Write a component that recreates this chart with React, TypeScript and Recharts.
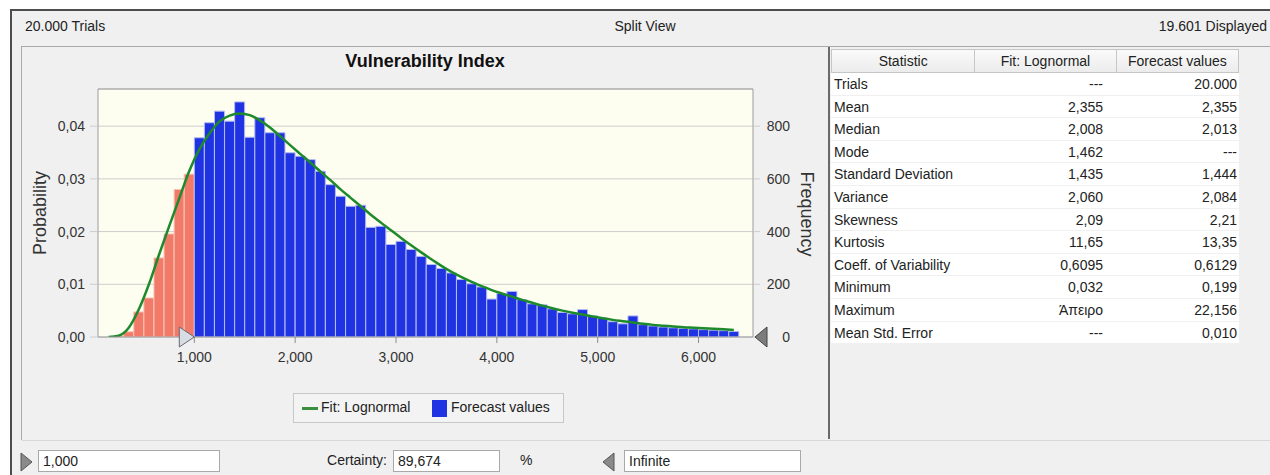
import React from 'react'
import {
  ComposedChart,
  Bar,
  Line,
  Cell,
  XAxis,
  YAxis,
  CartesianGrid,
  ReferenceLine,
  ReferenceDot
} from 'recharts'

// histogram bins (0,1 wide), centre of each bin
const binCenters = [
  0.15, 0.25, 0.35, 0.45, 0.55, 0.65, 0.75, 0.85, 0.95,
  1.05, 1.15, 1.25, 1.35, 1.45, 1.55, 1.65, 1.75, 1.85, 1.95,
  2.05, 2.15, 2.25, 2.35, 2.45, 2.55, 2.65, 2.75, 2.85, 2.95,
  3.05, 3.15, 3.25, 3.35, 3.45, 3.55, 3.65, 3.75, 3.85, 3.95,
  4.05, 4.15, 4.25, 4.35, 4.45, 4.55, 4.65, 4.75, 4.85, 4.95,
  5.05, 5.15, 5.25, 5.35, 5.45, 5.55, 5.65, 5.75, 5.85, 5.95,
  6.05, 6.15, 6.25, 6.35
]

// forecast values, frequency per bin
const forecastFreq = [
  0, 4, 20, 95, 148, 300, 391, 560, 618,
  756, 813, 857, 819, 892, 758, 832, 775, 775, 699,
  686, 673, 629, 578, 534, 496, 500, 416, 420, 351,
  363, 332, 306, 275, 260, 243, 218, 202, 190, 144,
  165, 173, 142, 126, 122, 107, 93, 88, 104, 80,
  72, 58, 50, 80, 47, 42, 38, 35, 33, 31,
  28, 26, 24, 21
]

// Fit: Lognormal curve, read at the bin centres (frequency units)
const fitLognormal = [
  0, 5, 35, 105, 200, 312, 420, 525, 630,
  712, 772, 818, 840, 848, 842, 822, 795, 762, 728,
  695, 662, 628, 595, 560, 528, 496, 464, 434, 405,
  376, 348, 321, 295, 270, 247, 227, 209, 193, 178,
  165, 153, 141, 130, 119, 109, 100, 92, 85, 78,
  71, 65, 60, 55, 50, 46, 43, 40, 37, 35,
  33, 31, 29, 27
]

const trials = 20000
const lowerBound = 1.0
const xDomain = [0.045, 6.54]
const freqMax = 941
const xTicks = [1, 2, 3, 4, 5, 6]
const probTicks = [0, 0.01, 0.02, 0.03, 0.04]
const freqTicks = [0, 200, 400, 600, 800]

const statNames = [
  'Trials', 'Mean', 'Median', 'Mode', 'Standard Deviation', 'Variance',
  'Skewness', 'Kurtosis', 'Coeff. of Variability', 'Minimum', 'Maximum', 'Mean Std. Error'
]
const fitStats = ['---', '2,355', '2,008', '1,462', '1,435', '2,060', '2,09', '11,65', '0,6095', '0,032', 'Άπειρο', '---']
const forecastStats = ['20.000', '2,355', '2,013', '---', '1,444', '2,084', '2,21', '13,35', '0,6129', '0,199', '22,156', '0,010']

const FONT = '"Liberation Sans", Arial, sans-serif'
const BLUE = '#1f33e2'
const SALMON = '#f27a69'
const GREEN = '#1e8a2c'

// bars are drawn as probability (left axis), the fit as frequency (right axis)
const rows = binCenters.map((x, i) => ({
  x,
  prob: forecastFreq[i] / trials,
  fit: fitLognormal[i]
}))

const fmtX = (v: number) => v.toFixed(3).replace('.', ',')
const fmtProb = (v: number) => v.toFixed(2).replace('.', ',')

const RightTick = ({ x, y, payload }: any) => (
  <text x={x + 28} y={y} dy="0.355em" textAnchor="end" fontSize={14} fill="#333" fontFamily={FONT}>
    {payload.value}
  </text>
)

const LowerMarker = ({ cx, cy }: any) => (
  <polygon
    points={`${cx - 15},${cy - 10} ${cx},${cy} ${cx - 15},${cy + 10}`}
    fill="#d8dce4"
    stroke="#666b74"
    strokeWidth={1}
  />
)

const UpperMarker = ({ cx, cy }: any) => (
  <polygon
    points={`${cx + 2},${cy} ${cx + 14},${cy - 10} ${cx + 14},${cy + 10}`}
    fill="#7c7c7c"
    stroke="#444"
    strokeWidth={1}
  />
)

const Arrow = ({ dir, left }: { dir: 'right' | 'left'; left: number }) => (
  <svg style={{ position: 'absolute', left, top: 452 }} width={14} height={20}>
    {dir === 'right' ? (
      <polygon points="1,1 12,10 1,19" fill="#8a8a8a" stroke="#555" />
    ) : (
      <polygon points="13,1 2,10 13,19" fill="#8a8a8a" stroke="#555" />
    )}
  </svg>
)

const inputBox = (left: number, width: number, text: string) => (
  <div
    style={{
      position: 'absolute', left, top: 450, width, height: 22, boxSizing: 'border-box',
      border: '1px solid #a9a9a9', background: '#fff', fontSize: 14, lineHeight: '20px', paddingLeft: 4, color: '#222'
    }}
  >
    {text}
  </div>
)

export default function App() {
  return (
    <div style={{ position: 'absolute', left: 0, top: 0, width: 1270, height: 475, overflow: 'hidden', background: '#fff', fontFamily: FONT }}>
      {/* window frame */}
      <div style={{ position: 'absolute', left: 10, top: 9, width: 1270, height: 470, background: '#f0f0f0', borderTop: '2px solid #4d4d4d', borderLeft: '2px solid #4d4d4d' }} />

      {/* header bar */}
      <div style={{ position: 'absolute', left: 25, top: 18, fontSize: 14, color: '#222' }}>20.000 Trials</div>
      <div style={{ position: 'absolute', left: 545, width: 200, top: 18, fontSize: 14, color: '#222', textAlign: 'center' }}>Split View</div>
      <div style={{ position: 'absolute', left: 1060, width: 207, top: 18, fontSize: 14, color: '#222', textAlign: 'right', whiteSpace: 'nowrap' }}>19.601 Displayed</div>
      <div style={{ position: 'absolute', left: 22, top: 46, width: 1250, height: 1, background: '#a9a9a9' }} />

      {/* chart panel */}
      <div style={{ position: 'absolute', left: 21, top: 46, width: 1, height: 394, background: '#a9a9a9' }} />
      <div style={{ position: 'absolute', left: 22, top: 440, width: 1250, height: 1, background: '#d8d8d8' }} />
      <div style={{ position: 'absolute', left: 225, width: 400, top: 51, fontSize: 18, fontWeight: 'bold', color: '#111', textAlign: 'center' }}>
        Vulnerability Index
      </div>
      <div style={{ position: 'absolute', left: 40, top: 213, transform: 'translate(-50%, -50%) rotate(-90deg)', fontSize: 18, color: '#333', whiteSpace: 'nowrap' }}>
        Probability
      </div>
      <div style={{ position: 'absolute', left: 806, top: 214, transform: 'translate(-50%, -50%) rotate(90deg)', fontSize: 18, color: '#333', whiteSpace: 'nowrap' }}>
        Frequency
      </div>

      <div style={{ position: 'absolute', left: 22, top: 47 }}>
        <ComposedChart
          width={806}
          height={391}
          data={rows}
          margin={{ top: 42, right: 15, bottom: 71, left: 16 }}
          barCategoryGap={0}
          barGap={0}
        >
          <CartesianGrid yAxisId="freq" vertical={false} stroke="#cdcdcd" fill="#fefef0" fillOpacity={1} />
          <XAxis
            dataKey="x"
            type="number"
            domain={xDomain}
            allowDataOverflow
            ticks={xTicks}
            tickFormatter={fmtX}
            height={30}
            tickSize={6}
            tickMargin={9}
            axisLine={{ stroke: '#9c9c9c' }}
            tickLine={{ stroke: '#8c8c8c' }}
            tick={{ fill: '#333', fontSize: 14, fontFamily: FONT }}
          />
          <YAxis
            yAxisId="prob"
            orientation="left"
            domain={[0, freqMax / trials]}
            allowDataOverflow
            ticks={probTicks}
            tickFormatter={fmtProb}
            width={60}
            tickSize={8}
            tickMargin={5}
            axisLine={{ stroke: '#9c9c9c' }}
            tickLine={{ stroke: '#cdcdcd' }}
            tick={{ fill: '#333', fontSize: 14, fontFamily: FONT }}
          />
          <YAxis
            yAxisId="freq"
            orientation="right"
            domain={[0, freqMax]}
            allowDataOverflow
            ticks={freqTicks}
            width={60}
            tickSize={7}
            axisLine={{ stroke: '#9c9c9c' }}
            tickLine={{ stroke: '#cdcdcd' }}
            tick={<RightTick />}
          />
          <ReferenceLine yAxisId="freq" y={freqMax} stroke="#9c9c9c" />
          <Bar yAxisId="prob" dataKey="prob" isAnimationActive={false}>
            {rows.map((r) => (
              <Cell
                key={r.x}
                fill={r.x < lowerBound ? SALMON : BLUE}
                stroke={r.x < lowerBound ? '#f8c2b6' : '#b4bbf4'}
                strokeWidth={1}
              />
            ))}
          </Bar>
          <Line
            yAxisId="freq"
            dataKey="fit"
            type="monotone"
            stroke={GREEN}
            strokeWidth={2.5}
            dot={false}
            isAnimationActive={false}
          />
          <ReferenceDot yAxisId="freq" x={lowerBound} y={0} ifOverflow="visible" shape={<LowerMarker />} />
          <ReferenceDot yAxisId="freq" x={xDomain[1]} y={0} ifOverflow="visible" shape={<UpperMarker />} />
        </ComposedChart>
      </div>

      {/* legend */}
      <div style={{ position: 'absolute', left: 293, top: 393, width: 271, height: 30, boxSizing: 'border-box', border: '1px solid #c8c8c8', background: '#f3f3f3', fontSize: 14, color: '#222' }}>
        <div style={{ position: 'absolute', left: 8, top: 13, width: 16, height: 3, background: '#3a8f3f' }} />
        <div style={{ position: 'absolute', left: 27, top: 5 }}>Fit: Lognormal</div>
        <div style={{ position: 'absolute', left: 138, top: 6, width: 15, height: 17, background: BLUE }} />
        <div style={{ position: 'absolute', left: 157, top: 5 }}>Forecast values</div>
      </div>

      {/* statistics panel */}
      <div style={{ position: 'absolute', left: 828, top: 47, width: 2, height: 392, background: '#6a6a6a' }} />
      <div style={{ position: 'absolute', left: 831, top: 49, width: 408, fontSize: 14, color: '#222' }}>
        <div style={{ display: 'flex', height: 24, background: 'linear-gradient(#fafafa, #ececec)', border: '1px solid #c6c6c6', boxSizing: 'border-box' }}>
          <div style={{ width: 143, textAlign: 'center', lineHeight: '22px', borderRight: '1px solid #c6c6c6' }}>Statistic</div>
          <div style={{ width: 141, textAlign: 'center', lineHeight: '22px', borderRight: '1px solid #c6c6c6' }}>Fit: Lognormal</div>
          <div style={{ width: 122, textAlign: 'center', lineHeight: '22px' }}>Forecast values</div>
        </div>
        {statNames.map((name, i) => (
          <div key={name} style={{ display: 'flex', height: 22.6, background: '#fff', borderBottom: '1px solid #f0f0f0', boxSizing: 'border-box' }}>
            <div style={{ width: 143, paddingLeft: 3, lineHeight: '22px', boxSizing: 'border-box', whiteSpace: 'nowrap' }}>{name}</div>
            <div style={{ width: 141, paddingRight: 12, textAlign: 'right', lineHeight: '22px', boxSizing: 'border-box' }}>{fitStats[i]}</div>
            <div style={{ width: 124, paddingRight: 2, textAlign: 'right', lineHeight: '22px', boxSizing: 'border-box' }}>{forecastStats[i]}</div>
          </div>
        ))}
      </div>

      {/* bottom bar */}
      <Arrow dir="right" left={20} />
      {inputBox(38, 182, '1,000')}
      <div style={{ position: 'absolute', left: 287, width: 100, top: 452, fontSize: 14, color: '#222', textAlign: 'right' }}>Certainty:</div>
      {inputBox(393, 107, '89,674')}
      <div style={{ position: 'absolute', left: 520, top: 452, fontSize: 14, color: '#222' }}>%</div>
      <Arrow dir="left" left={601} />
      {inputBox(624, 177, 'Infinite')}
    </div>
  )
}
